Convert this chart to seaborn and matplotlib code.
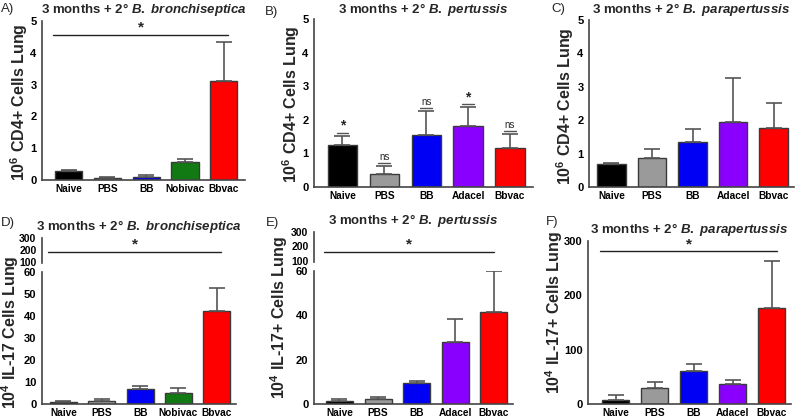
import numpy as np
import pandas as pd
import matplotlib.pyplot as plt
import seaborn as sns

# groups and colours
groups_bb = ['Naive', 'PBS', 'BB', 'Nobivac', 'Bbvac']
groups_bp = ['Naive', 'PBS', 'BB', 'Adacel', 'Bbvac']
colors_bb = ['#000000', '#9a9a9a', '#0000f5', '#127a12', '#ff0000']
colors_bp = ['#000000', '#9a9a9a', '#0000f5', '#8a00ff', '#ff0000']

# CD4+ (10^6) - mean and upper error
cd4_bronch = [0.27, 0.06, 0.11, 0.57, 3.12]
cd4_bronch_err = [0.04, 0.02, 0.04, 0.08, 1.21]
cd4_pert = [1.25, 0.40, 1.55, 1.83, 1.15]
cd4_pert_err = [0.28, 0.22, 0.72, 0.55, 0.43]
cd4_para = [0.70, 0.88, 1.35, 1.95, 1.78]
cd4_para_err = [0.02, 0.26, 0.38, 1.32, 0.74]

# IL-17+ (10^4)
il17_bronch = [0.8, 1.5, 7.0, 5.0, 42.3]
il17_bronch_err = [0.5, 0.8, 1.1, 2.5, 10.5]
il17_pert = [1.3, 2.3, 9.3, 28.0, 41.7]
il17_pert_err = [1.0, 0.7, 1.3, 10.5, 18.3]
il17_para = [8, 29, 60, 36, 176]
il17_para_err = [8, 12, 14, 8, 88]

pert_marks = ['*', 'ns', 'ns', '*', 'ns']

sns.set_theme(style='white')
plt.rcParams['font.family'] = ['Liberation Sans', 'DejaVu Sans']
plt.rcParams['font.weight'] = 'bold'
plt.rcParams['mathtext.fontset'] = 'custom'
plt.rcParams['mathtext.rm'] = 'Liberation Sans:bold'
plt.rcParams['mathtext.bf'] = 'Liberation Sans:bold'
plt.rcParams['mathtext.it'] = 'Liberation Sans:bold:italic'

W, H = 800, 418
fig = plt.figure(figsize=(8, 4.18), dpi=100)
AX_COL = '#444444'


def rect(l, t, r, b):
    return [l / W, 1 - b / H, (r - l) / W, (b - t) / H]


def style(ax, xlim, ylim, yticks, size=8):
    ax.set_xlim(*xlim)
    ax.set_ylim(*ylim)
    ax.set_yticks(yticks)
    for s in ['top', 'right']:
        ax.spines[s].set_visible(False)
    for s in ['left', 'bottom']:
        ax.spines[s].set_color(AX_COL)
        ax.spines[s].set_linewidth(1.2)
    ax.tick_params(axis='y', direction='out', length=3, width=1.2, color=AX_COL,
                   labelsize=size, pad=1, labelcolor='black')
    ax.tick_params(axis='x', length=0, labelsize=7.3, pad=3, labelcolor='black')
    ax.set_xlabel('')
    ax.set_ylabel('')


def bars(ax, groups, vals, errs, colors):
    df = pd.DataFrame({'group': groups, 'val': vals})
    sns.barplot(data=df, x='group', y='val', hue='group', palette=colors, legend=False,
                width=0.7, edgecolor='#3a3a3a', linewidth=1, saturation=1, errorbar=None, ax=ax)
    ax.errorbar(np.arange(len(vals)), vals, yerr=[np.zeros(len(errs)), errs], fmt='none',
                ecolor='#555555', elinewidth=1.2, capsize=6, capthick=1.2, zorder=1)


def title(ax, species, label, lx, ly, pad=6):
    ax.set_title('3 months + 2° $\\mathit{' + species.replace(' ', '\\ ') + '}$',
                 fontsize=9.5, fontweight='bold', pad=pad)
    fig.text(lx / W, 1 - ly / H, label, fontsize=9.5, fontweight='normal',
             va='center', ha='left')


def ylabel(text, x, y):
    fig.text(x / W, 1 - y / H, text, rotation=90, fontsize=11.5, fontweight='bold',
             ha='center', va='center')


def sig_line(ax, y, x0=-0.4, x1=4.12):
    ax.plot([x0, x1], [y, y], color='#222222', lw=1)
    ax.text((x0 + x1) / 2, y, '*', ha='center', va='bottom', fontsize=11, fontweight='bold')


# A
axA = fig.add_axes(rect(42, 21, 245, 180))
bars(axA, groups_bb, cd4_bronch, cd4_bronch_err, colors_bb)
style(axA, (-0.69, 4.55), (0, 5), [0, 1, 2, 3, 4, 5])
sig_line(axA, 4.57)
ylabel('10$^6$ CD4+ Cells Lung', 19, 102)
title(axA, 'B. bronchiseptica', 'A)', 1, 9)

# B
axB = fig.add_axes(rect(314, 19, 533, 187))
bars(axB, groups_bp, cd4_pert, cd4_pert_err, colors_bp)
style(axB, (-0.68, 4.55), (0, 5), [0, 1, 2, 3, 4, 5])
for i, (v, e, m) in enumerate(zip(cd4_pert, cd4_pert_err, pert_marks)):
    top = v + e + 0.08
    axB.plot([i - 0.14, i + 0.14], [top, top], color='#555555', lw=1)
    axB.text(i, top + (0.0 if m == '*' else 0.03), m, ha='center', va='bottom',
             fontsize=10 if m == '*' else 7, fontweight='bold' if m == '*' else 'normal')
ylabel('10$^6$ CD4+ Cells Lung', 291, 104)
title(axB, 'B. pertussis', 'B)', 265, 12, pad=4)

# C
axC = fig.add_axes(rect(589, 20, 794, 187))
bars(axC, groups_bp, cd4_para, cd4_para_err, colors_bp)
style(axC, (-0.55, 4.5), (0, 5), [0, 1, 2, 3, 4, 5])
ylabel('10$^6$ CD4+ Cells Lung', 565, 106)
title(axC, 'B. parapertussis', 'C)', 551, 9, pad=5)

# D (broken axis)
axDt = fig.add_axes(rect(42, 238, 236, 263))
axD = fig.add_axes(rect(42, 272, 236, 404))
bars(axD, groups_bb, il17_bronch, il17_bronch_err, colors_bb)
style(axD, (-0.56, 4.5), (0, 60), [0, 10, 20, 30, 40, 50, 60])
style(axDt, (-0.56, 4.5), (92, 300), [100, 200, 300], size=7.5)
axDt.spines['bottom'].set_visible(False)
axDt.set_xticks([])
sig_line(axDt, 187)
title(axDt, 'B. bronchiseptica', 'D)', 1, 223)
ylabel('10$^4$ IL-17 Cells Lung', 10, 332)

# E (broken axis)
axEt = fig.add_axes(rect(314, 232, 513, 262))
axE = fig.add_axes(rect(314, 271, 513, 404))
bars(axE, groups_bp, il17_pert, il17_pert_err, colors_bp)
style(axE, (-0.66, 4.5), (0, 60), [0, 20, 40, 60])
style(axEt, (-0.66, 4.5), (92, 300), [100, 200, 300], size=7.5)
axEt.spines['bottom'].set_visible(False)
axEt.set_xticks([])
sig_line(axEt, 163, x1=4.0)
title(axEt, 'B. pertussis', 'E)', 266, 223)
ylabel('10$^4$ IL-17+ Cells Lung', 279, 318)

# F
axF = fig.add_axes(rect(588, 241, 791, 404))
bars(axF, groups_bp, il17_para, il17_para_err, colors_bp)
style(axF, (-0.71, 4.5), (0, 300), [0, 100, 200, 300])
sig_line(axF, 281, x1=4.15)
ylabel('10$^4$ IL-17+ Cells Lung', 554, 313)
title(axF, 'B. parapertussis', 'F)', 546, 222)

fig.savefig('out.png', dpi=100)
